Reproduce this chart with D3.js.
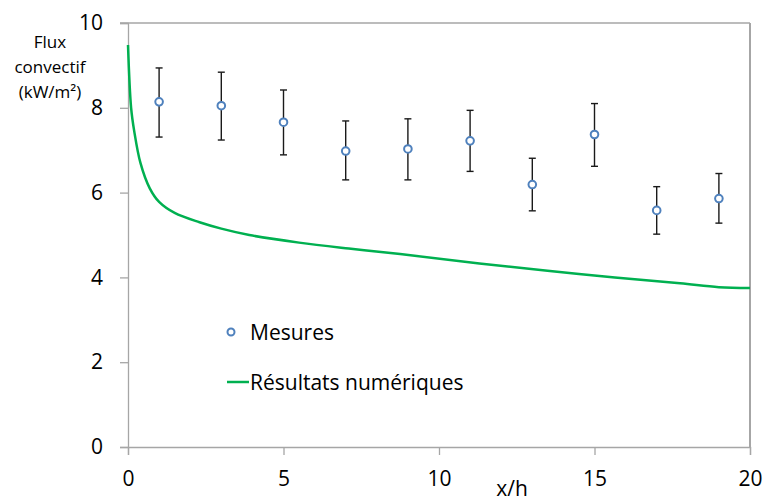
<!DOCTYPE html>
<html><head><meta charset="utf-8">
<script src="https://cdn.jsdelivr.net/npm/d3@7"></script>
<style>body{margin:0;background:#fff}svg{display:block}text{font-family:"Open Sans",sans-serif;fill:#000}</style>
</head><body><svg id="c" width="766" height="504"></svg>
<script>
const xPos = [1, 3, 5, 7, 9, 11, 13, 15, 17, 19];
const mesures = [8.14, 8.05, 7.66, 6.98, 7.03, 7.22, 6.19, 7.37, 5.58, 5.86];
const errHigh = [8.94, 8.84, 8.42, 7.69, 7.74, 7.94, 6.81, 8.10, 6.14, 6.45];
const errLow = [7.31, 7.24, 6.89, 6.30, 6.30, 6.50, 5.57, 6.62, 5.02, 5.28];
const simX = [0, 0.1, 0.2, 0.4, 0.7, 1.0, 1.5, 2.3, 3.0, 3.9, 5.5, 7.1, 8.75, 11.3, 14.5, 17.75, 19.0, 20];
const simY = [9.48, 8.0, 7.45, 6.7, 6.1, 5.78, 5.52, 5.3, 5.15, 5.0, 4.82, 4.68, 4.55, 4.33, 4.08, 3.86, 3.77, 3.75];
const xTicks = [0, 5, 10, 15, 20];
const yTicks = [0, 2, 4, 6, 8, 10];
const yTitle = ["Flux", "convectif", "(kW/m²)"];
const xTitle = "x/h";
const legendLabels = ["Mesures", "Résultats numériques"];

const svg = d3.select("#c");
const x = d3.scaleLinear().domain([0, 20]).range([128, 750]);
const y = d3.scaleLinear().domain([0, 10]).range([447, 23]);
const axisCol = "#a6a6a6";

svg.append("line").attr("x1", 120).attr("x2", x(20)).attr("y1", y(10)).attr("y2", y(10)).attr("stroke", axisCol).attr("stroke-width", 1.3);
svg.append("line").attr("x1", x(20)).attr("x2", x(20)).attr("y1", y(10)).attr("y2", y(0)).attr("stroke", axisCol).attr("stroke-width", 2);

const gx = svg.append("g").attr("transform", `translate(0,${y(0)})`)
  .call(d3.axisBottom(x).tickValues(xTicks).tickSize(8).tickPadding(16));
const gy = svg.append("g").attr("transform", `translate(${x(0)},0)`)
  .call(d3.axisLeft(y).tickValues(yTicks).tickSize(8).tickPadding(17));
[gx, gy].forEach(g => {
  g.select(".domain").attr("stroke", axisCol).attr("stroke-width", 1.3);
  g.selectAll(".tick line").attr("stroke", axisCol).attr("stroke-width", 1.3);
  g.selectAll(".tick text").style("font-family", '"Open Sans",sans-serif').style("font-size", "21px").attr("fill", "#000");
});
gx.selectAll(".tick text").attr("dy", "0.71em");

const line = d3.line().x(d => x(d)).y((d, i) => y(simY[i])).curve(d3.curveCatmullRom.alpha(0.5));
svg.append("path").datum(simX).attr("d", line).attr("fill", "none").attr("stroke", "#00b050").attr("stroke-width", 2.5);

const eb = svg.append("g").attr("stroke", "#1a1a1a").attr("stroke-width", 1.4);
xPos.forEach((v, i) => {
  eb.append("line").attr("x1", x(v)).attr("x2", x(v)).attr("y1", y(errHigh[i])).attr("y2", y(errLow[i]));
  eb.append("line").attr("x1", x(v) - 3.5).attr("x2", x(v) + 3.5).attr("y1", y(errHigh[i])).attr("y2", y(errHigh[i]));
  eb.append("line").attr("x1", x(v) - 3.5).attr("x2", x(v) + 3.5).attr("y1", y(errLow[i])).attr("y2", y(errLow[i]));
});
svg.append("g").selectAll("circle").data(xPos).join("circle")
  .attr("cx", d => x(d)).attr("cy", (d, i) => y(mesures[i])).attr("r", 3.8)
  .attr("fill", "#fff").attr("stroke", "#4f81bd").attr("stroke-width", 2);

svg.append("text").attr("x", 50).attr("text-anchor", "middle").style("font-size", "17px")
  .selectAll("tspan").data(yTitle).join("tspan").attr("x", 50).attr("y", (d, i) => 48 + i * 25).text(d => d);
svg.append("text").attr("x", 512).attr("y", 496).attr("text-anchor", "middle").style("font-size", "21px").text(xTitle);

svg.append("circle").attr("cx", 231).attr("cy", 332).attr("r", 3.5).attr("fill", "#fff").attr("stroke", "#4f81bd").attr("stroke-width", 2);
svg.append("text").attr("x", 250).attr("y", 340).style("font-size", "21px").text(legendLabels[0]);
svg.append("line").attr("x1", 227).attr("x2", 249).attr("y1", 382).attr("y2", 382).attr("stroke", "#00b050").attr("stroke-width", 2.5);
svg.append("text").attr("x", 250).attr("y", 390).style("font-size", "21px").text(legendLabels[1]);
</script></body></html>
